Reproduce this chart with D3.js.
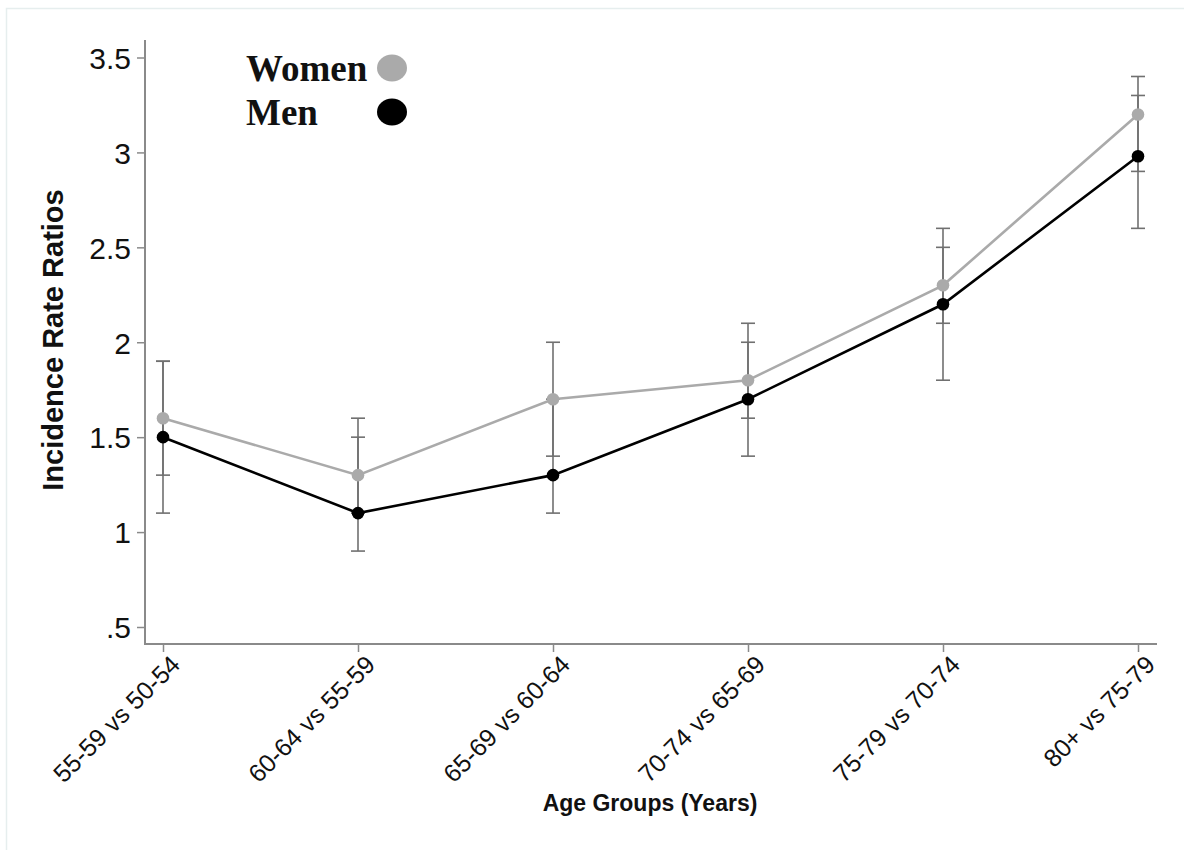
<!DOCTYPE html>
<html>
<head>
<meta charset="utf-8">
<script src="https://cdn.jsdelivr.net/npm/d3@7"></script>
<style>
  html, body { margin: 0; padding: 0; background: #fff; }
  svg { display: block; }
</style>
</head>
<body>
<svg id="chart" width="1184" height="850"></svg>
<script>
// Age-group comparisons
const categories = ["55-59 vs 50-54", "60-64 vs 55-59", "65-69 vs 60-64",
                    "70-74 vs 65-69", "75-79 vs 70-74", "80+ vs 75-79"];

// Incidence rate ratios with 95% confidence limits
const womenIRR   = [1.6, 1.3, 1.7, 1.8, 2.3, 3.2];
const womenLower = [1.3, 1.1, 1.4, 1.6, 2.1, 2.9];
const womenUpper = [1.9, 1.6, 2.0, 2.1, 2.6, 3.4];

const menIRR     = [1.5, 1.1, 1.3, 1.7, 2.2, 2.98];
const menLower   = [1.1, 0.9, 1.1, 1.4, 1.8, 2.6];
const menUpper   = [1.9, 1.5, 1.7, 2.0, 2.5, 3.3];

const yTicks = [0.5, 1, 1.5, 2, 2.5, 3, 3.5];
const yTickLabels = [".5", "1", "1.5", "2", "2.5", "3", "3.5"];

const svg = d3.select("#chart");

// faint frame around the figure
svg.append("rect")
  .attr("x", 6.5).attr("y", 8.5).attr("width", 1190).attr("height", 850)
  .attr("fill", "none").attr("stroke", "#e6eeee").attr("stroke-width", 1.5);

const x = d3.scalePoint().domain(categories).range([163, 1138]);
const y = d3.scaleLinear().domain([0.5, 3.5]).range([627, 57.5]);

const axisColor = "#8a8a8a";
const sans = "Liberation Sans, Arial, sans-serif";
const plotLeft = 145, plotBottom = 644, plotTop = 40, plotRight = 1157;

// Y axis
const yAxis = d3.axisLeft(y)
  .tickValues(yTicks)
  .tickFormat((d, i) => yTickLabels[i])
  .tickSize(8).tickSizeOuter(0).tickPadding(6);
const gy = svg.append("g").attr("transform", `translate(${plotLeft},0)`).call(yAxis);
gy.select(".domain").remove();
gy.selectAll(".tick line").attr("stroke", axisColor).attr("stroke-width", 1.5);
gy.selectAll(".tick text")
  .attr("font-family", sans)
  .attr("font-size", 30).attr("fill", "#111").attr("dy", "0.36em");
svg.append("line")
  .attr("x1", plotLeft).attr("x2", plotLeft)
  .attr("y1", plotTop).attr("y2", plotBottom + 1)
  .attr("stroke", axisColor).attr("stroke-width", 2);

// X axis
const xAxis = d3.axisBottom(x).tickSize(8).tickSizeOuter(0).tickPadding(6);
const gx = svg.append("g").attr("transform", `translate(0,${plotBottom})`).call(xAxis);
gx.select(".domain").remove();
gx.selectAll(".tick line").attr("stroke", axisColor).attr("stroke-width", 1.5);
gx.selectAll(".tick text")
  .attr("font-family", sans)
  .attr("font-size", 25).attr("fill", "#111")
  .attr("text-anchor", "end")
  .attr("dy", "0.35em")
  .attr("transform", "translate(2,6) rotate(-45)");
svg.append("line")
  .attr("x1", plotLeft - 1).attr("x2", plotRight)
  .attr("y1", plotBottom).attr("y2", plotBottom)
  .attr("stroke", axisColor).attr("stroke-width", 2);

// Axis titles
svg.append("text")
  .attr("transform", "translate(63,340) rotate(-90)")
  .attr("text-anchor", "middle")
  .attr("font-family", sans)
  .attr("font-weight", "bold").attr("font-size", 29).attr("fill", "#111")
  .text("Incidence Rate Ratios");
svg.append("text")
  .attr("x", 650).attr("y", 811)
  .attr("text-anchor", "middle")
  .attr("font-family", sans)
  .attr("font-weight", "bold").attr("font-size", 23).attr("fill", "#111")
  .text("Age Groups (Years)");

// Error bars
const ebColor = "#707070";
const capHalf = 7;
function errorBars(lo, hi) {
  const g = svg.append("g").attr("stroke", ebColor).attr("stroke-width", 1.6);
  categories.forEach((c, i) => {
    g.append("line").attr("x1", x(c)).attr("x2", x(c))
      .attr("y1", y(lo[i])).attr("y2", y(hi[i]));
    [lo[i], hi[i]].forEach(v => {
      g.append("line").attr("x1", x(c) - capHalf).attr("x2", x(c) + capHalf)
        .attr("y1", y(v)).attr("y2", y(v));
    });
  });
}
errorBars(menLower, menUpper);
errorBars(womenLower, womenUpper);

// Series lines and points
const line = d3.line().x((d, i) => x(categories[i])).y(d => y(d));
function series(vals, color) {
  svg.append("path").datum(vals)
    .attr("d", line).attr("fill", "none")
    .attr("stroke", color).attr("stroke-width", 2.6);
  svg.append("g").selectAll("circle").data(vals).join("circle")
    .attr("cx", (d, i) => x(categories[i])).attr("cy", d => y(d))
    .attr("r", 6.3).attr("fill", color);
}
series(womenIRR, "#aaaaaa");
series(menIRR, "#000000");

// Legend
const legend = [
  { label: "Women", color: "#aaaaaa", ty: 81, cy: 68 },
  { label: "Men", color: "#000000", ty: 125, cy: 112 }
];
legend.forEach(d => {
  svg.append("text")
    .attr("x", 246).attr("y", d.ty)
    .attr("font-family", "Liberation Serif, 'Times New Roman', serif")
    .attr("font-weight", "bold").attr("font-size", 37).attr("fill", "#111")
    .text(d.label);
  svg.append("ellipse")
    .attr("cx", 392).attr("cy", d.cy).attr("rx", 15).attr("ry", 13.5)
    .attr("fill", d.color);
});
</script>
</body>
</html>
